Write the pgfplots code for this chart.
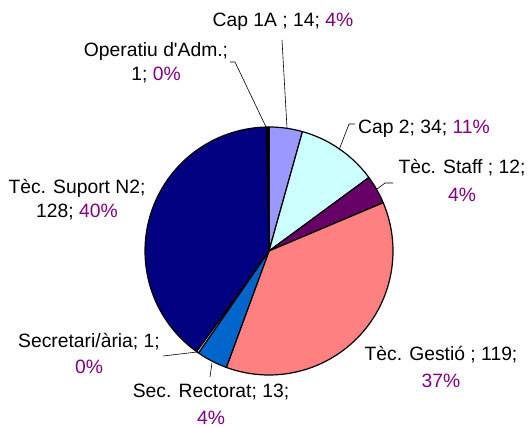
\documentclass[border=0pt]{standalone}
\usepackage{pgfplots}
\pgfplotsset{compat=1.18}
\usepackage{fontspec}
\setmainfont{Liberation Sans}
\definecolor{cA}{HTML}{9999FF}
\definecolor{cB}{HTML}{CCFFFF}
\definecolor{cC}{HTML}{660066}
\definecolor{cD}{HTML}{FF8080}
\definecolor{cE}{HTML}{0066CC}
\definecolor{cF}{HTML}{CCCCFF}
\definecolor{cG}{HTML}{000080}
\definecolor{cH}{HTML}{000000}
\definecolor{pct}{HTML}{800080}
% values: Cap 1A 14, Cap 2 34, Tec. Staff 12, Tec. Gestio 119, Sec. Rectorat 13,
% Secretari/aria 1, Tec. Suport N2 128, Operatiu d'Adm. 1 ; total 322
\newcommand{\slice}[3]{%
  \addplot[fill=#3, draw=black, line width=1.2bp, line join=round, domain=#1:#2, samples=60, variable=\t]
    ({269+124*sin(\t*360/322)}, {251-124*cos(\t*360/322)}) -- (axis cs:269,251) -- cycle;
}
\begin{document}
\begin{tikzpicture}[every node/.style={font=\fontsize{19.3bp}{23bp}\selectfont, inner sep=0pt}]
\begin{axis}[
  width=528bp, height=427bp, scale only axis,
  xmin=0, xmax=528, ymin=0, ymax=427, y dir=reverse,
  hide axis, clip=false]
\path (rel axis cs:0,0) rectangle (rel axis cs:1,1);
\slice{0}{14}{cA}
\slice{14}{48}{cB}
\slice{48}{60}{cC}
\slice{60}{179}{cD}
\slice{179}{192}{cE}
\slice{192}{193}{cF}
\slice{193}{321}{cG}
\slice{321}{322}{cH}
% leader lines
\draw[black, line width=0.6bp] (axis cs:282,40) -- (axis cs:287,128);
\draw[black, line width=0.6bp] (axis cs:230,62) -- (axis cs:235,62) -- (axis cs:266,127);
\draw[black, line width=0.6bp] (axis cs:355,124) -- (axis cs:349,124) -- (axis cs:339,150);
\draw[black, line width=0.6bp] (axis cs:393,183) -- (axis cs:385,183) -- (axis cs:377,189);
\draw[black, line width=0.6bp] (axis cs:163,356) -- (axis cs:197,352);
\draw[black, line width=0.6bp] (axis cs:210,377) -- (axis cs:212,363);
% labels
\node[anchor=base] at (axis cs:283,27) {Cap 1A ; 14; \textcolor{pct}{4\%}};
\node[anchor=base] at (axis cs:156,57) {Operatiu d\textquotesingle Adm.;};
\node[anchor=base] at (axis cs:156,81) {1; \textcolor{pct}{0\%}};
\node[anchor=base west] at (axis cs:358,133) {Cap 2; 34; \textcolor{pct}{11\%}};
\node[anchor=base] at (axis cs:462,173) {Tèc. Staff ; 12;};
\node[anchor=base] at (axis cs:462,201) {\textcolor{pct}{4\%}};
\node[anchor=base] at (axis cs:77,193) {Tèc. Suport N2;};
\node[anchor=base] at (axis cs:77,217) {128; \textcolor{pct}{40\%}};
\node[anchor=base] at (axis cs:89,347) {Secretari/ària; 1;};
\node[anchor=base] at (axis cs:89,373) {\textcolor{pct}{0\%}};
\node[anchor=base] at (axis cs:211,397) {Sec. Rectorat; 13;};
\node[anchor=base] at (axis cs:211,424) {\textcolor{pct}{4\%}};
\node[anchor=base] at (axis cs:441,360) {Tèc. Gestió ; 119;};
\node[anchor=base] at (axis cs:441,387) {\textcolor{pct}{37\%}};
\end{axis}
\end{tikzpicture}
\end{document}
